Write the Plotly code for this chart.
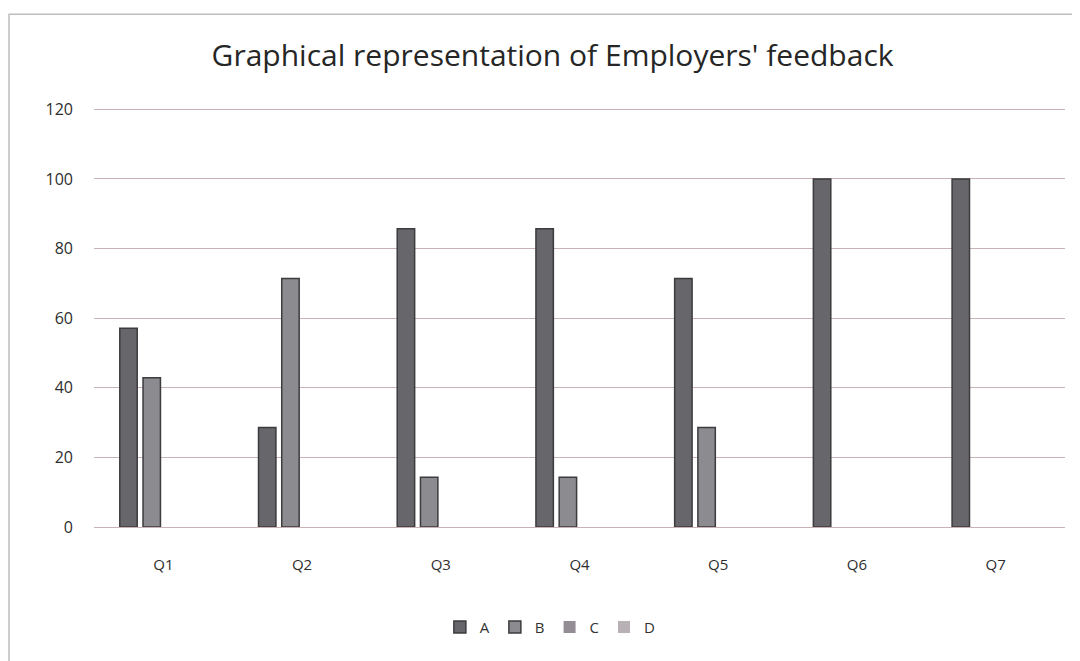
import plotly.graph_objects as go

# data (percentages)
questions = ["Q1", "Q2", "Q3", "Q4", "Q5", "Q6", "Q7"]
series_names = ["A", "B", "C", "D"]
vals_a = [57.1, 28.6, 85.7, 85.7, 71.4, 100, 100]
vals_b = [42.9, 71.4, 14.3, 14.3, 28.6, 0, 0]
vals_c = [0, 0, 0, 0, 0, 0, 0]
vals_d = [0, 0, 0, 0, 0, 0, 0]
y_ticks = [0, 20, 40, 60, 80, 100, 120]

colors = ["#66666b", "#8c8b90", "#948d96", "#b8b0b5"]
values = [vals_a, vals_b, vals_c, vals_d]

fig = go.Figure()
for name, vals, col in zip(series_names, values, colors):
    # no outline on empty bars, so zero values stay invisible
    widths = [1.5 if v > 0 else 0 for v in vals]
    fig.add_trace(go.Bar(
        x=questions,
        y=vals,
        name=name,
        marker=dict(color=col, line=dict(color="#3c3b3e", width=widths))
    ))

# page body has an 8px margin, so the figure is a bit smaller than the window
fig.update_layout(
    width=1072,
    height=653,
    barmode="group",
    bargap=0.33,
    bargroupgap=0.25,
    paper_bgcolor="white",
    plot_bgcolor="white",
    font=dict(family="Open Sans, sans-serif", color="#333333", size=15),
    title=dict(
        text="Graphical representation of Employers' feedback",
        x=0.508, xanchor="center", y=0.928, yanchor="middle",
        font=dict(size=30, color="#262626")
    ),
    margin=dict(l=86, r=15, t=100, b=134),
    legend=dict(
        orientation="h", x=0.47, xanchor="center", y=-0.239, yanchor="middle",
        font=dict(size=15), itemwidth=30, traceorder="normal"
    ),
    showlegend=True,
)

fig.update_yaxes(
    range=[0, 120.4],
    tickvals=y_ticks,
    showgrid=True,
    gridcolor="#c9b2b5",
    gridwidth=1.2,
    zeroline=False,
    showline=False,
    ticklabelstandoff=20,
    tickfont=dict(size=16, color="#2e2e2e"),
)
fig.update_xaxes(
    showline=True,
    linecolor="#c9b2b5",
    linewidth=1.2,
    ticklabelstandoff=24,
    tickfont=dict(size=15, color="#2e2e2e"),
)

# outer chart border
fig.add_shape(
    type="rect", xref="paper", yref="paper",
    x0=-0.0875, x1=1.0134, y0=-0.33, y1=1.224,
    line=dict(color="#bdbdbd", width=1.5), fillcolor="rgba(0,0,0,0)"
)

fig.write_html("out.html")
